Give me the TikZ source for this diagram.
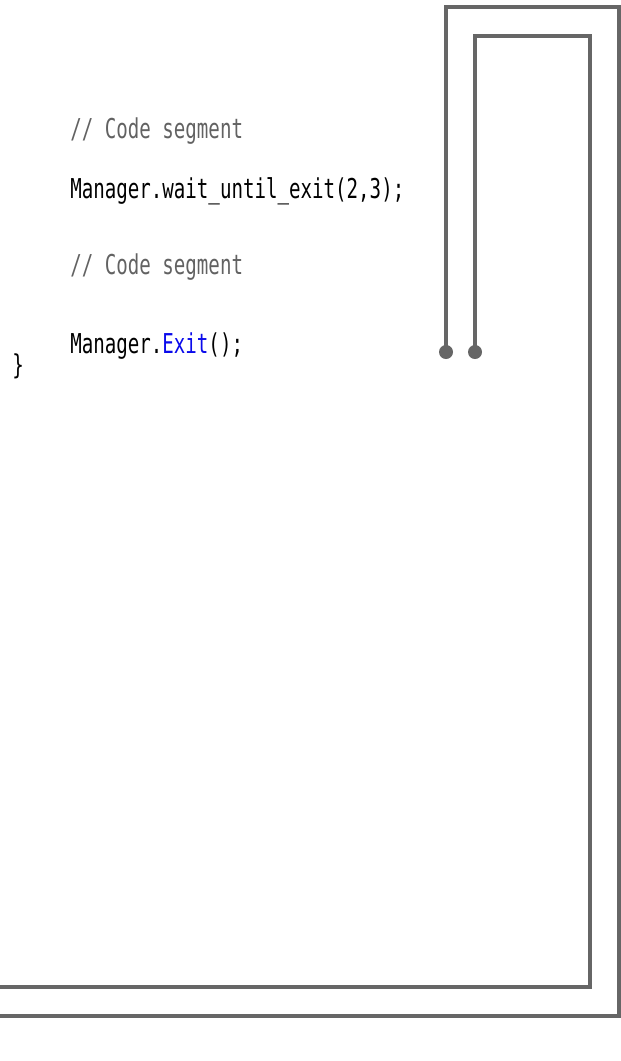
\documentclass[tikz,border=0pt]{standalone}
\usepackage{fontspec}
\usepackage{graphicx}
\usetikzlibrary{positioning}

\newfontfamily\codefont{DejaVu Sans Mono}
\definecolor{wire}{RGB}{102,102,102}
\definecolor{comment}{RGB}{98,98,98}
\definecolor{keyword}{RGB}{10,10,235}
% narrow monospace look for the listing
\newcommand\code[1]{\scalebox{0.70}[1]{\codefont\fontsize{20.5}{24}\selectfont #1}}

\begin{document}
\begin{tikzpicture}[x=0.75pt,
            y=-0.75pt,
            line join=miter,
            wire/.style={draw=wire, line width=2.3pt},
            pin/.style={circle, fill=wire, inner sep=0pt, minimum size=10.5pt},
            txt/.style={anchor=base west, inner sep=0pt},
            note/.style={txt, text=comment}]

        \useasboundingbox (0,0) rectangle (621,1061);

        % listing
        \node[note] (seg1)  at (70,138) {\code{// Code segment}};
        \node[txt]  (wait)  at (70,198) {\code{Manager.wait\_until\_exit(2,3);}};
        \node[note] (seg2)  at (70,274) {\code{// Code segment}};
        \node[txt]  (exit)  at (70,353) {\code{Manager.\textcolor{keyword}{Exit}();}};
        \node[txt]  (close) at (12,374) {\code{\}}};

        % the two wires
        \node[pin] (outer) at (446,352) {};
        \node[pin] (inner) at (475,352) {};

        \coordinate (outer-top) at (619,7);
        \coordinate (outer-end) at (0,1016);
        \coordinate (inner-top) at (590,36);
        \coordinate (inner-end) at (0,987);

        \draw[wire] (outer.center) |- (outer-top) |- (outer-end);
        \draw[wire] (inner.center) |- (inner-top) |- (inner-end);

    \end{tikzpicture}
\end{document}
